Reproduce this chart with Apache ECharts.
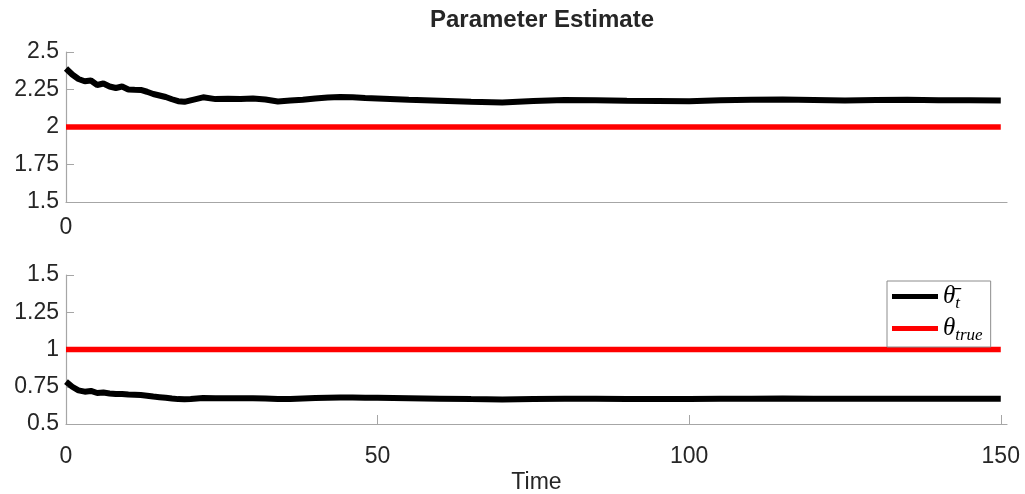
<!DOCTYPE html>
<html>
<head>
<meta charset="utf-8">
<script src="https://cdn.jsdelivr.net/npm/echarts@6/dist/echarts.min.js"></script>
<style>
  html, body { margin: 0; padding: 0; background: #fff; }
  #main { width: 1025px; height: 494px; }
</style>
</head>
<body>
<div id="main"></div>
<script>
    // time steps (denser where the curve wiggles)
    const timeSteps = [0, 1, 2, 3, 4, 5, 6, 7, 8, 9, 10, 11, 12, 13, 14, 15, 16, 17, 18, 19, 20,
        22, 24, 26, 28, 30, 32, 34, 36, 38, 40, 42, 44, 46, 48, 50,
        55, 60, 65, 70, 75, 80, 85, 90, 95, 100, 105, 110, 115, 120, 125, 130, 135, 140, 145, 150];
    // upper panel, estimate
    const estTop = [2.39, 2.35, 2.32, 2.305, 2.31, 2.28, 2.29, 2.27, 2.26, 2.27, 2.25, 2.248, 2.247, 2.235, 2.22, 2.21, 2.2, 2.185, 2.172, 2.168, 2.178,
        2.198, 2.186, 2.188, 2.186, 2.19, 2.183, 2.17, 2.176, 2.182, 2.19, 2.196, 2.2, 2.198, 2.193, 2.19,
        2.182, 2.175, 2.168, 2.163, 2.173, 2.18, 2.178, 2.175, 2.174, 2.171, 2.178, 2.182, 2.184, 2.18, 2.176, 2.18, 2.181, 2.178, 2.179, 2.177];
    // lower panel, estimate
    const estBot = [0.784, 0.75, 0.726, 0.717, 0.722, 0.708, 0.711, 0.705, 0.701, 0.702, 0.698, 0.697, 0.694, 0.69, 0.684, 0.68, 0.676, 0.671, 0.667, 0.666, 0.668,
        0.674, 0.673, 0.673, 0.672, 0.672, 0.671, 0.667, 0.667, 0.671, 0.674, 0.677, 0.678, 0.678, 0.677, 0.676,
        0.673, 0.67, 0.667, 0.665, 0.668, 0.67, 0.669, 0.668, 0.668, 0.667, 0.669, 0.67, 0.671, 0.67, 0.669, 0.67, 0.67, 0.669, 0.67, 0.669];
    const trueTop = 2;
    const trueBot = 1;
    const timeRange = [0, 150];
    const xTicks = [0, 50, 100, 150];

    const zip = (xs, ys) => xs.map((x, i) => [x, ys[i]]);
    const flat = (v) => timeRange.map(t => [t, v]);

    const font = 'Liberation Sans, Arial, sans-serif';
    const axisGray = '#a6a6a6';
    const textColor = '#262626';

    function yAxis(idx, min, max) {
        return {
            type: 'value', gridIndex: idx, min: min, max: max, interval: 0.25,
            axisLine: {show: true, lineStyle: {color: axisGray, width: 1.2}},
            axisTick: {show: true, inside: true, length: 8, lineStyle: {color: axisGray}},
            axisLabel: {color: textColor, fontSize: 23, fontFamily: font, margin: 7},
            splitLine: {show: false}
        };
    }

    let myChart = echarts.init(document.getElementById('main'));
    myChart.setOption({
        animation: false,
        backgroundColor: '#fff',
        title: {
            text: 'Parameter Estimate',
            left: 537, textAlign: 'center', top: 3,
            textStyle: {fontSize: 24, fontWeight: 'bold', color: textColor, fontFamily: font}
        },
        grid: [
            {left: 66, right: 18, top: 52, height: 150, outerBoundsMode: 'none'},
            {left: 66, right: 18, top: 275, height: 149, outerBoundsMode: 'none'}
        ],
        xAxis: [
            {
                type: 'value', gridIndex: 0, min: 0, max: 151,
                axisLine: {show: true, lineStyle: {color: axisGray, width: 1.2}},
                axisTick: {show: false},
                axisLabel: {color: textColor, fontSize: 23, fontFamily: font, margin: 14, customValues: [0]},
                splitLine: {show: false}
            },
            {
                type: 'value', gridIndex: 1, min: 0, max: 151,
                name: 'Time', nameLocation: 'middle', nameGap: 47,
                nameTextStyle: {color: textColor, fontSize: 23, fontFamily: font},
                axisLine: {show: true, lineStyle: {color: axisGray, width: 1.2}},
                axisTick: {show: true, inside: true, length: 9, customValues: xTicks, lineStyle: {color: axisGray}},
                axisLabel: {color: textColor, fontSize: 23, fontFamily: font, margin: 21, customValues: xTicks},
                splitLine: {show: false}
            }
        ],
        yAxis: [yAxis(0, 1.5, 2.5), yAxis(1, 0.5, 1.5)],
        legend: {
            data: ['est', 'true'],
            left: 887, top: 281,
            orient: 'vertical',
            icon: 'rect',
            itemWidth: 46, itemHeight: 5, itemGap: 4,
            padding: [3, 8, 3, 5],
            borderColor: '#8c8c8c', borderWidth: 1, backgroundColor: '#fff',
            formatter: function (name) {
                return name === 'est' ? '{th|θ̄}{sub|t}' : '{th|θ}{sub|true}';
            },
            textStyle: {
                color: '#000',
                rich: {
                    th: {fontFamily: 'Liberation Serif, serif', fontStyle: 'italic', fontSize: 25, color: '#000'},
                    sub: {fontFamily: 'Liberation Serif, serif', fontStyle: 'italic', fontSize: 17, color: '#000', padding: [14, 0, 0, 0]}
                }
            }
        },
        series: [
            {name: 'est', type: 'line', xAxisIndex: 0, yAxisIndex: 0, showSymbol: false, symbol: 'none',
                lineStyle: {color: '#000', width: 6}, itemStyle: {color: '#000'}, data: zip(timeSteps, estTop), z: 3},
            {name: 'true', type: 'line', xAxisIndex: 0, yAxisIndex: 0, showSymbol: false, symbol: 'none',
                lineStyle: {color: '#ff0000', width: 5.5}, itemStyle: {color: '#ff0000'}, data: flat(trueTop), z: 2},
            {name: 'est', type: 'line', xAxisIndex: 1, yAxisIndex: 1, showSymbol: false, symbol: 'none',
                lineStyle: {color: '#000', width: 6}, itemStyle: {color: '#000'}, data: zip(timeSteps, estBot), z: 3},
            {name: 'true', type: 'line', xAxisIndex: 1, yAxisIndex: 1, showSymbol: false, symbol: 'none',
                lineStyle: {color: '#ff0000', width: 5.5}, itemStyle: {color: '#ff0000'}, data: flat(trueBot), z: 2}
        ]
    });
</script>
</body>
</html>
